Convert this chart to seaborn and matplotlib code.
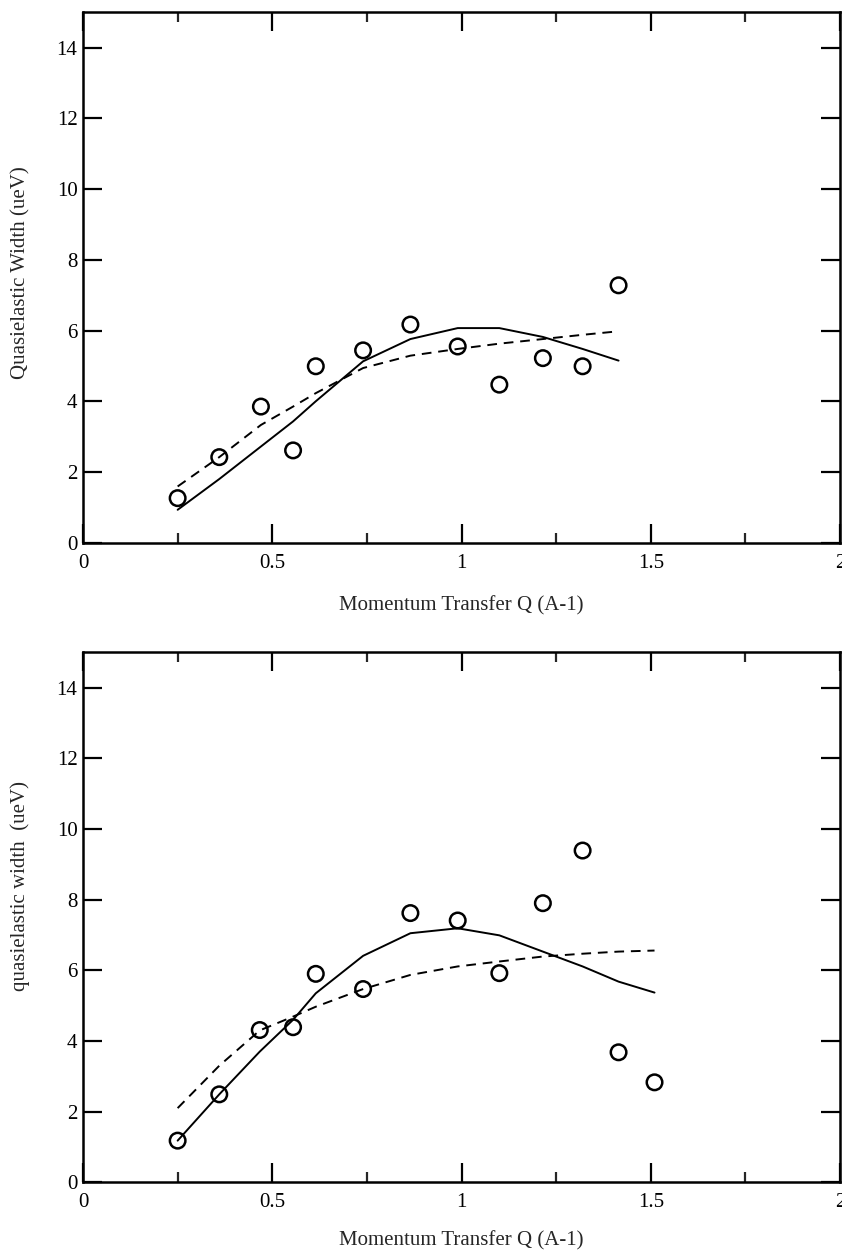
import matplotlib
matplotlib.use("Agg")
import matplotlib.pyplot as plt
import seaborn as sns
import pandas as pd
from matplotlib.ticker import MultipleLocator

# ---- data ----
q_top = [0.25, 0.36, 0.47, 0.555, 0.615, 0.74, 0.865, 0.99, 1.10, 1.215, 1.32, 1.415]
w_top = [1.26, 2.42, 3.85, 2.61, 4.99, 5.44, 6.17, 5.55, 4.47, 5.22, 4.99, 7.28]
fit1_top = [0.93, 1.80, 2.72, 3.43, 4.00, 5.13, 5.76, 6.07, 6.07, 5.82, 5.48, 5.15]
fit2_top = [1.59, 2.42, 3.33, 3.85, 4.23, 4.94, 5.29, 5.48, 5.63, 5.76, 5.88, 5.98]

q_bot = [0.25, 0.36, 0.467, 0.555, 0.615, 0.74, 0.865, 0.99, 1.10, 1.215, 1.32, 1.415, 1.51]
w_bot = [1.18, 2.49, 4.31, 4.39, 5.90, 5.47, 7.62, 7.41, 5.92, 7.90, 9.39, 3.68, 2.83]
fit1_bot = [1.18, 2.49, 3.70, 4.60, 5.35, 6.41, 7.05, 7.19, 6.99, 6.53, 6.11, 5.68, 5.37]
fit2_bot = [2.10, 3.30, 4.30, 4.69, 4.97, 5.47, 5.87, 6.11, 6.25, 6.39, 6.47, 6.53, 6.56]

xtick_labels = ["0", "0.5", "1", "1.5", "2"]
xlabel = "Momentum Transfer Q (A-1)"
ylabel_top = "Quasielastic Width (ueV)"
ylabel_bot = "quasielastic width  (ueV)"

sns.set_style("ticks")
plt.rcParams["font.family"] = ["Liberation Serif", "DejaVu Serif"]
plt.rcParams["font.size"] = 11

fig = plt.figure(figsize=(8.42, 12.53), dpi=100)
ax1 = fig.add_axes([0.0986, 0.5669, 0.899, 0.4232])
ax2 = fig.add_axes([0.0986, 0.0564, 0.899, 0.4230])


def draw(ax, q, w, f1, f2, ylab, ylab_y, xlab_y):
    df = pd.DataFrame({"Q": q, "W": w, "F1": f1, "F2": f2})
    sns.lineplot(data=df, x="Q", y="F1", ax=ax, color="black", lw=1.4,
                 estimator=None, sort=False)
    sns.lineplot(data=df, x="Q", y="F2", ax=ax, color="black", lw=1.4,
                 estimator=None, sort=False)
    ax.lines[-1].set_dashes([5, 3.5])
    sns.scatterplot(data=df, x="Q", y="W", ax=ax, marker="o", s=125,
                    facecolor="none", edgecolor="black", linewidth=1.8, zorder=5)
    ax.set_xlim(0, 2)
    ax.set_ylim(0, 15)
    ax.xaxis.set_minor_locator(MultipleLocator(0.25))
    ax.set_yticks([0, 2, 4, 6, 8, 10, 12, 14])
    ax.set_xticks([0, 0.5, 1, 1.5, 2])
    ax.set_xticklabels(xtick_labels)
    ax.tick_params(axis="both", which="major", direction="in", length=14,
                   width=1.6, top=True, right=True, labelsize=15, colors="black")
    ax.tick_params(axis="x", which="major", pad=8)
    ax.tick_params(axis="y", which="major", pad=4)
    ax.tick_params(axis="x", which="minor", direction="in", length=7,
                   width=1.6, top=True, bottom=True)
    for s in ax.spines.values():
        s.set_visible(True)
        s.set_linewidth(1.8)
        s.set_color("black")
    ax.set_xlabel(xlabel, fontsize=15)
    ax.set_ylabel(ylab, fontsize=15)
    ax.xaxis.set_label_coords(0.5, xlab_y)
    ax.yaxis.set_label_coords(-0.07, ylab_y)


draw(ax1, q_top, w_top, fit1_top, fit2_top, ylabel_top, 0.51, -0.100)
draw(ax2, q_bot, w_bot, fit1_bot, fit2_bot, ylabel_bot, 0.56, -0.092)

fig.savefig("out.png", dpi=100)
